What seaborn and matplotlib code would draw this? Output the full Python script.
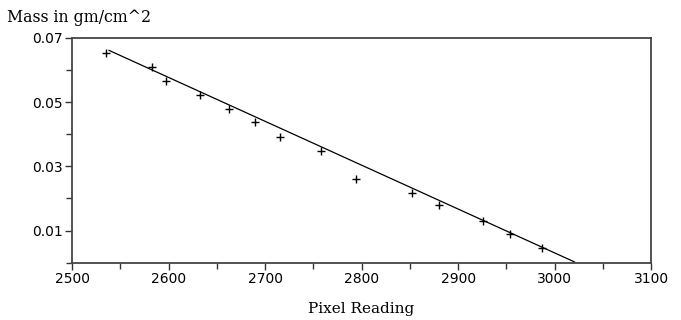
import matplotlib
matplotlib.use("Agg")
import matplotlib.pyplot as plt
import seaborn as sns
import pandas as pd
from matplotlib.ticker import MultipleLocator

# Dados
pixel = [2535, 2583, 2597, 2633, 2663, 2690, 2715, 2758, 2794, 2852, 2880, 2926, 2954, 2987]
massa = [0.0653, 0.0609, 0.0565, 0.0523, 0.0479, 0.0437, 0.0392, 0.0348, 0.0261,
         0.0218, 0.0179, 0.0131, 0.0089, 0.0047]

# Reta ajustada (extremos)
reta_x = [2538, 3021]
reta_y = [0.0661, 0.0002]

xticks = [2500, 2600, 2700, 2800, 2900, 3000, 3100]
yticks = [0.01, 0.03, 0.05, 0.07]

pontos = pd.DataFrame({'pixel': pixel, 'massa': massa})
reta = pd.DataFrame({'x': reta_x, 'y': reta_y})

sns.set_style("ticks")
plt.rcParams['font.family'] = ['DejaVu Sans']

fig, ax = plt.subplots(figsize=(6.81, 3.20), dpi=100)
fig.subplots_adjust(left=0.106, right=0.956, top=0.882, bottom=0.179)

sns.lineplot(data=reta, x='x', y='y', color='black', linewidth=0.9, ax=ax)
sns.scatterplot(data=pontos, x='pixel', y='massa', marker='+', color='black',
                s=40, linewidth=1.0, ax=ax)

ax.set_xlim(2500, 3100)
ax.set_ylim(0, 0.07)
ax.set_xticks(xticks)
ax.set_xticklabels([str(v) for v in xticks])
ax.set_yticks(yticks)
ax.set_yticklabels([f'{v:.2f}' for v in yticks])
ax.xaxis.set_minor_locator(MultipleLocator(50))
ax.yaxis.set_minor_locator(MultipleLocator(0.01))
ax.tick_params(axis='both', which='major', length=5, width=1, color='#333333',
               labelsize=10, labelcolor='black', pad=2)
ax.tick_params(axis='both', which='minor', length=4, width=1, color='#333333')

for lado in ['left', 'bottom', 'top', 'right']:
    ax.spines[lado].set_visible(True)
    ax.spines[lado].set_color('#444444')
    ax.spines[lado].set_linewidth(1.3)

ax.set_xlabel('')
ax.set_ylabel('')
fig.text(0.53, 0.035, 'Pixel Reading', ha='center', va='center',
         family='DejaVu Serif', fontsize=11, color='black')
fig.text(0.01, 0.945, 'Mass in gm/cm^2', ha='left', va='center',
         family='DejaVu Serif', fontsize=11.3, color='black')

fig.savefig('out.png', dpi=100)
